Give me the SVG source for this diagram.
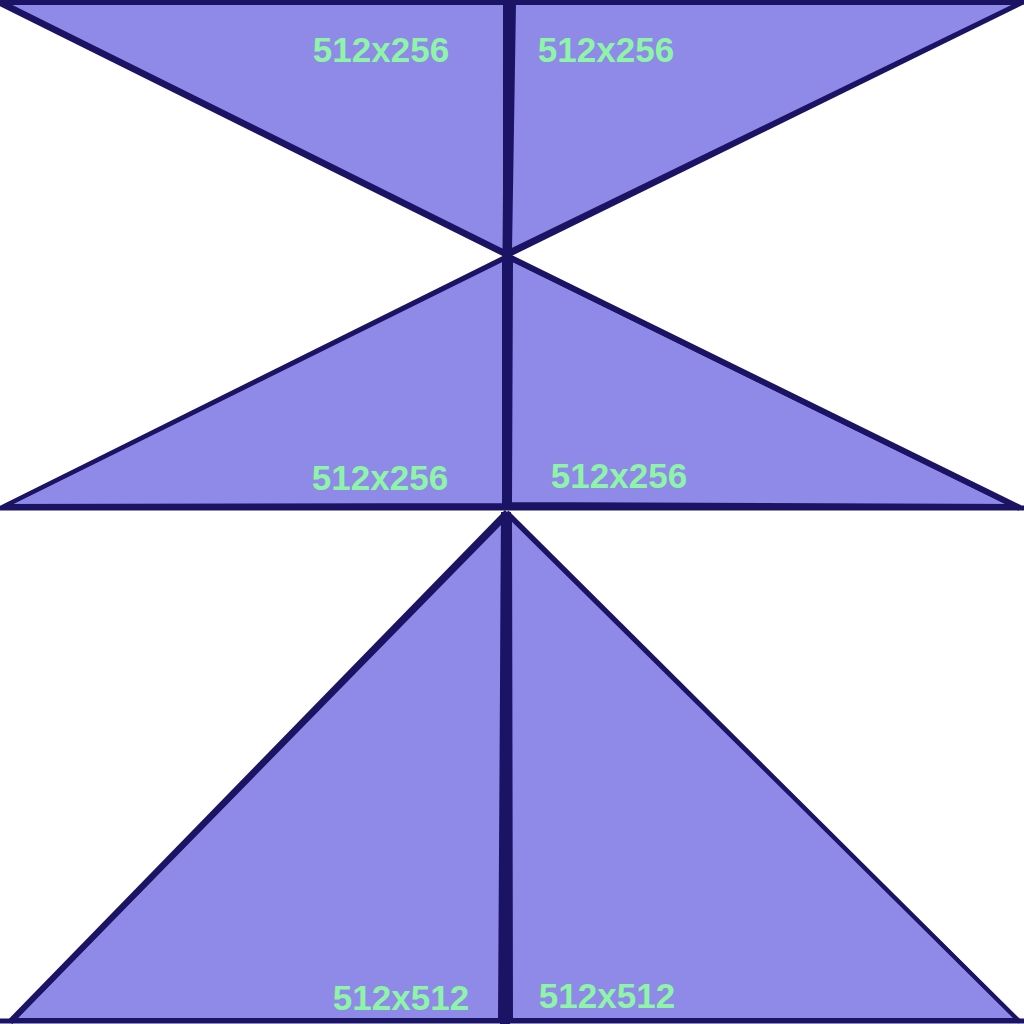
<svg xmlns="http://www.w3.org/2000/svg" width="1024" height="1024" viewBox="0 0 1024 1024">
<style>
.tri{fill:#8f89e7;stroke:#1b1464;stroke-width:4;stroke-linejoin:round}
.edge{stroke:#1b1464;fill:none}
.lbl{font-family:"Liberation Sans",Arial,sans-serif;font-weight:bold;font-size:35px;fill:#8ef5a8;text-anchor:middle}
</style>
<rect width="1024" height="1024" fill="#ffffff"/>
<g id="tri-top-left">
<polygon class="tri" points="4,3 505,3 505,252"/>
<text class="lbl" x="381" y="62">512x256</text>
</g>
<g id="tri-top-right">
<polygon class="tri" points="514,3 1020,3 510,251"/>
<text class="lbl" x="606" y="62">512x256</text>
</g>
<g id="tri-mid-left">
<polygon class="tri" points="504,259 504,505 5,506"/>
<text class="lbl" x="380" y="490">512x256</text>
</g>
<g id="tri-mid-right">
<polygon class="tri" points="511,259 1014,506 510,504"/>
<text class="lbl" x="619" y="488">512x256</text>
</g>
<g id="tri-bottom-left">
<polygon class="tri" points="503,520 500,1020 13,1020"/>
<text class="lbl" x="401" y="1010">512x512</text>
</g>
<g id="tri-bottom-right">
<polygon class="tri" points="510,517 1018,1020 511,1020"/>
<text class="lbl" x="607" y="1008">512x512</text>
</g>
<g id="connectors">
<line class="edge" x1="0" y1="2" x2="1024" y2="2" stroke-width="5"/>
<line class="edge" x1="0" y1="508" x2="1024" y2="508" stroke-width="5"/>
<line class="edge" x1="0" y1="1021" x2="1024" y2="1021" stroke-width="5"/>
<line class="edge" x1="509" y1="0" x2="507" y2="256" stroke-width="9"/>
<line class="edge" x1="507" y1="256" x2="507" y2="508" stroke-width="8"/>
<line class="edge" x1="506" y1="512" x2="505" y2="1024" stroke-width="10"/>
<line class="edge" x1="0" y1="4" x2="507" y2="256" stroke-width="4"/>
<line class="edge" x1="1024" y1="2" x2="507" y2="256" stroke-width="4"/>
<line class="edge" x1="507" y1="256" x2="2" y2="507" stroke-width="4"/>
<line class="edge" x1="507" y1="256" x2="1020" y2="508" stroke-width="6"/>
<line class="edge" x1="507" y1="512" x2="10" y2="1022" stroke-width="6"/>
<line class="edge" x1="507" y1="512" x2="1020" y2="1022" stroke-width="4"/>
</g>
</svg>
